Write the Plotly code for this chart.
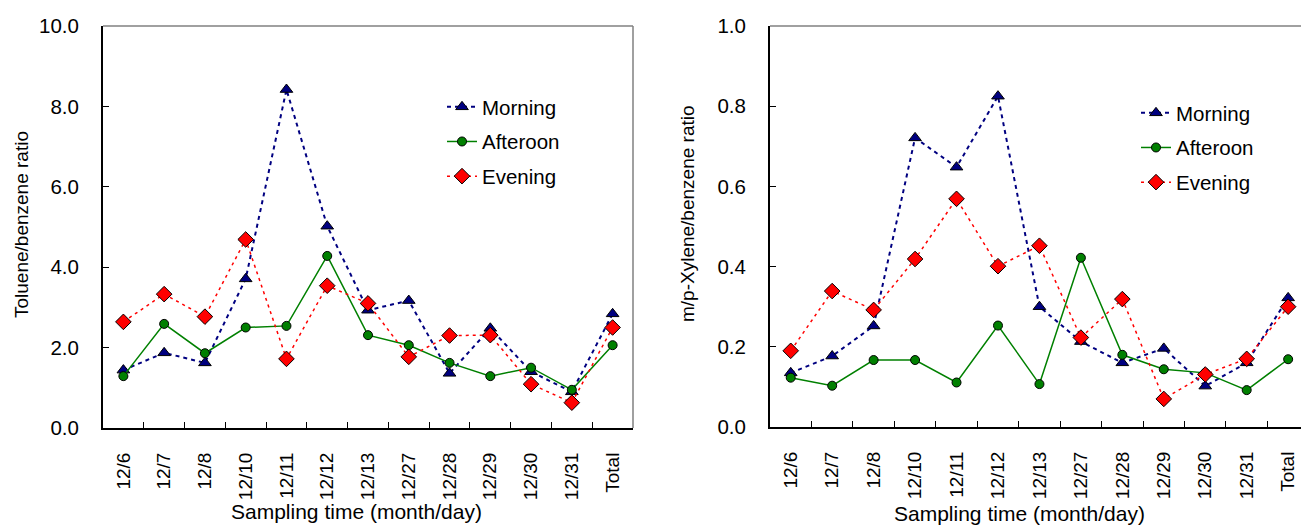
import plotly.graph_objects as go

categories = ["12/6", "12/7", "12/8", "12/10", "12/11", "12/12", "12/13",
              "12/27", "12/28", "12/29", "12/30", "12/31", "Total"]

tol_morning = [1.44, 1.87, 1.62, 3.71, 8.42, 5.02, 2.93, 3.17, 1.36, 2.48, 1.40, 0.90, 2.84]
tol_afternoon = [1.29, 2.59, 1.86, 2.50, 2.54, 4.28, 2.31, 2.06, 1.62, 1.29, 1.50, 0.95, 2.06]
tol_evening = [2.64, 3.33, 2.77, 4.69, 1.72, 3.54, 3.10, 1.77, 2.30, 2.31, 1.09, 0.63, 2.50]

xyl_morning = [0.135, 0.177, 0.252, 0.721, 0.648, 0.825, 0.300, 0.213, 0.160, 0.196, 0.102, 0.160, 0.322]
xyl_afternoon = [0.123, 0.103, 0.167, 0.167, 0.111, 0.253, 0.107, 0.422, 0.180, 0.144, 0.135, 0.092, 0.169]
xyl_evening = [0.190, 0.339, 0.292, 0.419, 0.569, 0.401, 0.452, 0.223, 0.319, 0.070, 0.131, 0.170, 0.300]

series_names = ["Morning", "Afteroon", "Evening"]

W, H = 1301, 527
FONT = "Liberation Sans, Arial, sans-serif"

styles = [
    dict(line=dict(color="#000080", width=2, dash="4px,4px"),
         marker=dict(symbol="triangle-up", size=11, color="#000080",
                     line=dict(color="black", width=1))),
    dict(line=dict(color="#008000", width=1.5),
         marker=dict(symbol="circle", size=9, color="#008000",
                     line=dict(color="black", width=1))),
    dict(line=dict(color="#FF0000", width=1.5, dash="3px,4px"),
         marker=dict(symbol="diamond", size=12, color="#FF0000",
                     line=dict(color="black", width=1))),
]

fig = go.Figure()
left_data = [tol_morning, tol_afternoon, tol_evening]
right_data = [xyl_morning, xyl_afternoon, xyl_evening]
for i, (name, vals) in enumerate(zip(series_names, left_data)):
    fig.add_trace(go.Scatter(x=categories, y=vals, name=name, mode="lines+markers",
                             xaxis="x", yaxis="y", legend="legend",
                             legendgroup="l" + str(i), **styles[i]))
for i, (name, vals) in enumerate(zip(series_names, right_data)):
    fig.add_trace(go.Scatter(x=categories, y=vals, name=name, mode="lines+markers",
                             xaxis="x2", yaxis="y2", legend="legend2",
                             legendgroup="r" + str(i), **styles[i]))

def px_x(p):
    return p / W

def px_y(p):
    return (H - p) / H

xcommon = dict(type="category", showline=True, linecolor="black", linewidth=2,
               ticks="inside", ticklen=6, tickcolor="black", tickwidth=1,
               tickson="boundaries", tickangle=-90, showgrid=False, zeroline=False,
               tickfont=dict(family=FONT, size=19, color="black"), automargin=False,
               ticklabelstandoff=15, categoryorder="array", categoryarray=categories)
ycommon = dict(showline=True, linecolor="black", linewidth=2,
               ticks="inside", ticklen=6, tickcolor="black", tickwidth=1,
               showgrid=False, zeroline=False, automargin=False,
               tickfont=dict(family=FONT, size=20.5, color="black"),
               ticklabelstandoff=18)

fig.update_layout(
    template="none",
    width=W, height=H,
    margin=dict(l=0, r=0, t=0, b=0, pad=0),
    paper_bgcolor="white", plot_bgcolor="white",
    font=dict(family=FONT, color="black"),
    xaxis=dict(domain=[px_x(103), px_x(633)], range=[-0.5, 12.5], anchor="y", **xcommon),
    yaxis=dict(domain=[px_y(428), px_y(26)], range=[0, 10], dtick=2, tickformat=".1f",
               anchor="x", **ycommon),
    xaxis2=dict(domain=[px_x(770), 1.0], range=[-0.5, 12.31], anchor="y2", **xcommon),
    yaxis2=dict(domain=[px_y(427), px_y(26)], range=[0, 1.0], dtick=0.2, tickformat=".1f",
                anchor="x2", **ycommon),
    legend=dict(x=px_x(442), y=px_y(87), xanchor="left", yanchor="top",
                bgcolor="rgba(0,0,0,0)", font=dict(family=FONT, size=20.5, color="black"),
                tracegroupgap=5, itemwidth=30),
    legend2=dict(x=px_x(1136), y=px_y(93), xanchor="left", yanchor="top",
                 bgcolor="rgba(0,0,0,0)", font=dict(family=FONT, size=20.5, color="black"),
                 tracegroupgap=5, itemwidth=30),
    showlegend=True,
)

# top and right frame lines (grey)
for xr, yr, right in [("x domain", "y domain", True), ("x2 domain", "y2 domain", False)]:
    fig.add_shape(type="line", xref=xr, yref=yr, x0=0, x1=1, y0=1, y1=1,
                  line=dict(color="#808080", width=1.5))
    if right:
        fig.add_shape(type="line", xref=xr, yref=yr, x0=1, x1=1, y0=0, y1=1,
                      line=dict(color="#808080", width=1.5))

annots = [
    dict(text="Sampling time (month/day)", x=px_x(356), y=px_y(511), textangle=0, size=21),
    dict(text="Sampling time (month/day)", x=px_x(1019), y=px_y(513), textangle=0, size=21),
    dict(text="Toluene/benzene ratio", x=px_x(21), y=px_y(225), textangle=-90, size=19),
    dict(text="m/p-Xylene/benzene ratio", x=px_x(687), y=px_y(213), textangle=-90, size=19),
]
for a in annots:
    fig.add_annotation(text=a["text"], x=a["x"], y=a["y"], xref="paper", yref="paper",
                       xanchor="center", yanchor="middle", showarrow=False,
                       textangle=a["textangle"],
                       font=dict(family=FONT, size=a["size"], color="black"))

fig.write_html("out.html")
